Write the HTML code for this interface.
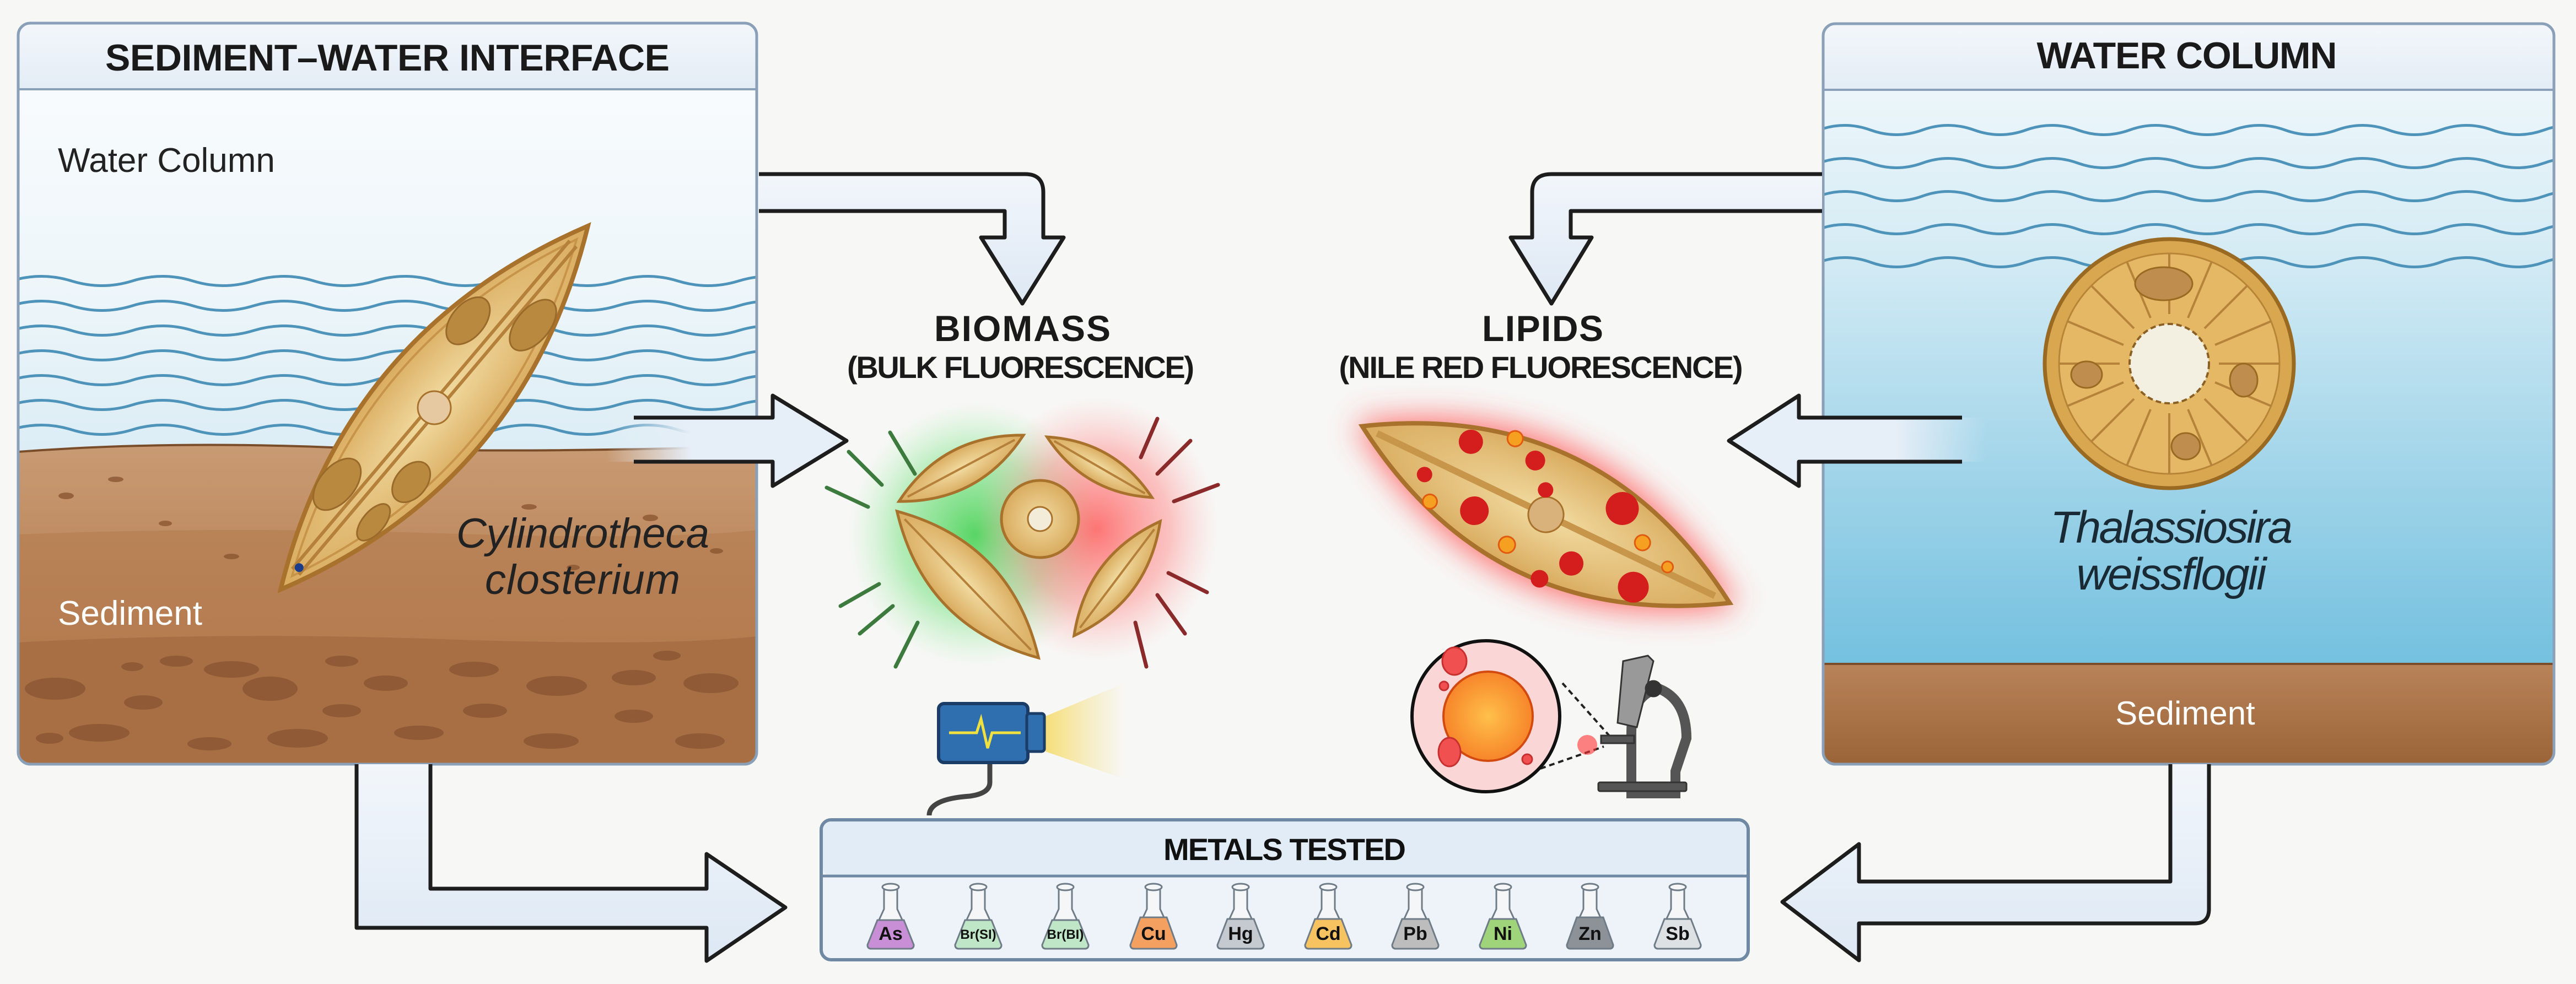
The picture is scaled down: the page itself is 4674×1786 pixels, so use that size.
<!DOCTYPE html>
<html><head><meta charset="utf-8"><style>html,body{margin:0;padding:0;background:#f7f7f5}svg{display:block}</style></head>
<body>
<svg width="4674" height="1786" viewBox="0 0 4674 1786" xmlns="http://www.w3.org/2000/svg" font-family="Liberation Sans, sans-serif">
<defs>
<linearGradient id="lw" x1="0" y1="0" x2="0" y2="1"><stop offset="0" stop-color="#fbfdfe"/><stop offset="0.35" stop-color="#eef6fa"/><stop offset="1" stop-color="#b9dcec"/></linearGradient>
<linearGradient id="ls" x1="0" y1="0" x2="0" y2="1"><stop offset="0" stop-color="#c99b74"/><stop offset="0.5" stop-color="#b98356"/><stop offset="1" stop-color="#a8703f"/></linearGradient>
<linearGradient id="rw" x1="0" y1="0" x2="0" y2="1"><stop offset="0" stop-color="#f6fafc"/><stop offset="0.3" stop-color="#d6ecf5"/><stop offset="1" stop-color="#5cb6da"/></linearGradient>
<linearGradient id="rs" x1="0" y1="0" x2="0" y2="1"><stop offset="0" stop-color="#b98359"/><stop offset="1" stop-color="#9b6338"/></linearGradient>
<linearGradient id="hd" x1="0" y1="0" x2="0" y2="1"><stop offset="0" stop-color="#f3f7fb"/><stop offset="1" stop-color="#e3ecf5"/></linearGradient>
<linearGradient id="ar" x1="0" y1="0" x2="0" y2="1"><stop offset="0" stop-color="#f2f6fb"/><stop offset="1" stop-color="#dde8f4"/></linearGradient>
<linearGradient id="fadeL" x1="0" y1="0" x2="1" y2="0"><stop offset="0" stop-color="#e6eef7" stop-opacity="0"/><stop offset="0.35" stop-color="#e6eef7"/><stop offset="1" stop-color="#e6eef7"/></linearGradient>
<linearGradient id="fadeR" x1="1" y1="0" x2="0" y2="0"><stop offset="0" stop-color="#e6eef7" stop-opacity="0"/><stop offset="0.35" stop-color="#e6eef7"/><stop offset="1" stop-color="#e6eef7"/></linearGradient>
<linearGradient id="cone" x1="0" y1="0" x2="1" y2="0"><stop offset="0" stop-color="#f5dc6a" stop-opacity="0.9"/><stop offset="1" stop-color="#f5e08a" stop-opacity="0"/></linearGradient>
<radialGradient id="gg"><stop offset="0" stop-color="#3ccf4a" stop-opacity="0.85"/><stop offset="0.6" stop-color="#6fe07a" stop-opacity="0.5"/><stop offset="1" stop-color="#a0f0a8" stop-opacity="0"/></radialGradient>
<radialGradient id="rg"><stop offset="0" stop-color="#ff4a4a" stop-opacity="0.75"/><stop offset="0.6" stop-color="#ff8080" stop-opacity="0.45"/><stop offset="1" stop-color="#ffb0b0" stop-opacity="0"/></radialGradient>
<radialGradient id="cellf"><stop offset="0" stop-color="#f2dca2"/><stop offset="1" stop-color="#d9ab5e"/></radialGradient>
<radialGradient id="org"><stop offset="0" stop-color="#ffc04a"/><stop offset="1" stop-color="#f7852a"/></radialGradient>
<filter id="bl" x="-50%" y="-50%" width="200%" height="200%"><feGaussianBlur stdDeviation="28"/></filter>
<clipPath id="lc"><rect x="33" y="42" width="1340" height="1345" rx="22"/></clipPath>
<clipPath id="rc"><rect x="3308" y="43" width="1326" height="1344" rx="22"/></clipPath>
</defs>
<rect width="4674" height="1786" fill="#f7f7f5"/>

<!-- LEFT PANEL -->
<g clip-path="url(#lc)">
<rect x="33" y="42" width="1340" height="1345" fill="url(#lw)"/>
<rect x="33" y="42" width="1340" height="120" fill="url(#hd)"/>
<g fill="none" stroke="#4e93ba" stroke-width="5">
<path id="wv" d="M20 510 q55 -17 110 0 t110 0 t110 0 t110 0 t110 0 t110 0 t110 0 t110 0 t110 0 t110 0 t110 0 t110 0 t110 0"/>
<use href="#wv" y="45"/><use href="#wv" y="90"/><use href="#wv" y="135"/><use href="#wv" y="180"/><use href="#wv" y="225"/><use href="#wv" y="270"/>
</g>
<path d="M33 820 Q300 800 600 812 T1373 810 L1373 1387 L33 1387 Z" fill="url(#ls)" stroke="#7a4d2a" stroke-width="4"/>
<path d="M33 970 Q400 955 800 968 T1373 962 L1373 1387 L33 1387 Z" fill="#b47c50" opacity="0.6"/>
<path d="M33 1166 Q400 1146 800 1160 T1373 1155 L1373 1387 L33 1387 Z" fill="#a86f45"/>
<g fill="#8a5632" opacity="0.8">
<ellipse cx="100" cy="1250" rx="55" ry="20"/><ellipse cx="260" cy="1275" rx="35" ry="13"/><ellipse cx="420" cy="1215" rx="50" ry="15"/><ellipse cx="490" cy="1250" rx="50" ry="22"/><ellipse cx="700" cy="1240" rx="40" ry="14"/><ellipse cx="860" cy="1215" rx="45" ry="14"/><ellipse cx="1010" cy="1245" rx="55" ry="18"/><ellipse cx="1150" cy="1230" rx="40" ry="14"/><ellipse cx="1290" cy="1240" rx="50" ry="18"/><ellipse cx="180" cy="1330" rx="55" ry="16"/><ellipse cx="380" cy="1350" rx="40" ry="12"/><ellipse cx="540" cy="1340" rx="55" ry="17"/><ellipse cx="760" cy="1330" rx="45" ry="13"/><ellipse cx="1000" cy="1345" rx="50" ry="14"/><ellipse cx="1270" cy="1345" rx="45" ry="14"/><ellipse cx="90" cy="1340" rx="25" ry="10"/><ellipse cx="620" cy="1200" rx="30" ry="10"/><ellipse cx="320" cy="1200" rx="30" ry="10"/><ellipse cx="620" cy="1290" rx="35" ry="12"/><ellipse cx="880" cy="1290" rx="40" ry="13"/><ellipse cx="1150" cy="1300" rx="35" ry="12"/><ellipse cx="240" cy="1210" rx="20" ry="8"/><ellipse cx="1210" cy="1190" rx="25" ry="9"/>
<ellipse cx="120" cy="900" rx="14" ry="6"/><ellipse cx="300" cy="950" rx="12" ry="5"/><ellipse cx="1180" cy="940" rx="14" ry="6"/><ellipse cx="1300" cy="1000" rx="12" ry="5"/><ellipse cx="420" cy="1010" rx="14" ry="5"/><ellipse cx="1040" cy="1030" rx="12" ry="5"/><ellipse cx="210" cy="870" rx="14" ry="5"/><ellipse cx="960" cy="920" rx="14" ry="5"/>
</g>
<text x="105" y="312" font-size="62" fill="#222">Water Column</text>
<text x="105" y="1134" font-size="62" fill="#fff">Sediment</text>
<text x="828" y="994" font-size="76" font-style="italic" fill="#222" textLength="459">Cylindrotheca</text>
<text x="880" y="1078" font-size="76" font-style="italic" fill="#222" textLength="354">closterium</text>
</g>
<rect x="33" y="42" width="1340" height="1345" rx="22" fill="none" stroke="#8aa0b8" stroke-width="5"/>
<line x1="33" y1="162" x2="1373" y2="162" stroke="#8aa0b8" stroke-width="4"/>
<text x="703" y="128" font-size="68" font-weight="bold" fill="#1a1a1a" text-anchor="middle" textLength="1024">SEDIMENT–WATER INTERFACE</text>

<!-- left diatom -->
<g transform="translate(788 740) rotate(-49.8)">
<path d="M-432 0 Q0 -215 432 0 Q0 215 -432 0 Z" fill="url(#cellf)" stroke="#a8722c" stroke-width="8"/>
<path d="M-400 0 Q0 -180 400 0 Q0 180 -400 0 Z" fill="none" stroke="#c8944a" stroke-width="4"/>
<line x1="-390" y1="-8" x2="390" y2="-8" stroke="#b5803a" stroke-width="6"/>
<line x1="-390" y1="8" x2="390" y2="8" stroke="#b5803a" stroke-width="6"/>
<g fill="#b8893e" stroke="#9a6a2a" stroke-width="3"><ellipse cx="-220" cy="-45" rx="55" ry="32"/><ellipse cx="160" cy="-55" rx="50" ry="30"/><ellipse cx="230" cy="40" rx="55" ry="30"/><ellipse cx="-130" cy="55" rx="42" ry="28"/><ellipse cx="-230" cy="50" rx="40" ry="20"/></g>
<circle cx="0" cy="0" r="30" fill="#e6c9a0" stroke="#a8722c" stroke-width="3"/>
<circle cx="-380" cy="0" r="8" fill="#1a3c8a"/>
</g>

<!-- RIGHT PANEL -->
<g clip-path="url(#rc)">
<rect x="3308" y="43" width="1326" height="1344" fill="url(#rw)"/>
<rect x="3308" y="43" width="1326" height="120" fill="url(#hd)"/>
<g fill="none" stroke="#4e93ba" stroke-width="5">
<path id="wv2" d="M3300 236 q47 -17 94 0 t94 0 t94 0 t94 0 t94 0 t94 0 t94 0 t94 0 t94 0 t94 0 t94 0 t94 0 t94 0 t94 0 t94 0"/>
<use href="#wv2" y="60"/><use href="#wv2" y="120"/><use href="#wv2" y="180"/><use href="#wv2" y="240"/>
</g>
<rect x="3308" y="1205" width="1326" height="182" fill="url(#rs)"/>
<line x1="3308" y1="1205" x2="4634" y2="1205" stroke="#7a4d2a" stroke-width="4"/>
</g>
<rect x="3308" y="43" width="1326" height="1344" rx="22" fill="none" stroke="#8aa0b8" stroke-width="5"/>
<line x1="3308" y1="163" x2="4634" y2="163" stroke="#8aa0b8" stroke-width="4"/>
<text x="3968" y="124" font-size="68" font-weight="bold" fill="#1a1a1a" text-anchor="middle" textLength="545">WATER COLUMN</text>
<text x="3965" y="1315" font-size="60" fill="#fff" text-anchor="middle">Sediment</text>
<text x="3940" y="985" font-size="82" font-style="italic" fill="#1a2a35" text-anchor="middle" textLength="440">Thalassiosira</text>
<text x="3940" y="1070" font-size="82" font-style="italic" fill="#1a2a35" text-anchor="middle" textLength="345">weissflogii</text>
<!-- centric diatom -->
<g transform="translate(3936 660)">
<circle r="226" fill="#d9a74f" stroke="#9a6a22" stroke-width="7"/>
<circle r="200" fill="#e4b865" stroke="#b88438" stroke-width="3"/>
<g stroke="#b7823a" stroke-width="4">
<line x1="0" y1="-90" x2="0" y2="-200"/><line x1="0" y1="90" x2="0" y2="200"/><line x1="-90" y1="0" x2="-200" y2="0"/><line x1="90" y1="0" x2="200" y2="0"/>
<line x1="64" y1="64" x2="141" y2="141"/><line x1="-64" y1="64" x2="-141" y2="141"/><line x1="64" y1="-64" x2="141" y2="-141"/><line x1="-64" y1="-64" x2="-141" y2="-141"/>
<line x1="34" y1="83" x2="77" y2="185"/><line x1="-34" y1="83" x2="-77" y2="185"/><line x1="34" y1="-83" x2="77" y2="-185"/><line x1="-34" y1="-83" x2="-77" y2="-185"/>
<line x1="83" y1="34" x2="185" y2="77"/><line x1="-83" y1="34" x2="-185" y2="77"/><line x1="83" y1="-34" x2="185" y2="-77"/><line x1="-83" y1="-34" x2="-185" y2="-77"/>
</g>
<g fill="#bf8e4e" stroke="#9a6a22" stroke-width="3"><ellipse cx="-10" cy="-145" rx="52" ry="30"/><ellipse cx="-150" cy="20" rx="28" ry="24"/><ellipse cx="135" cy="30" rx="25" ry="30"/><ellipse cx="30" cy="150" rx="26" ry="24"/></g>
<circle r="72" fill="#f3f0e2" stroke="#8a6024" stroke-width="4" stroke-dasharray="10 6"/>
</g>

<!-- ARROWS -->
<g stroke="#1d1d1d" stroke-width="7" stroke-linejoin="round">
<path d="M1377 316 L1860 316 Q1893 316 1893 349 L1893 431 L1930 431 L1855 551 L1780 431 L1823 431 L1823 383 L1377 383" fill="url(#ar)"/>
<path d="M3306 316 L2815 316 Q2780 316 2780 349 L2780 431 L2741 431 L2815 551 L2888 431 L2850 431 L2850 383 L3306 383" fill="url(#ar)"/>
<path d="M647 1387 L647 1684 L1282 1684 L1282 1744 L1425 1647 L1282 1550 L1282 1613 L781 1613 L781 1387" fill="url(#ar)"/>
<path d="M4008 1387 L4008 1650 Q4008 1676 3982 1676 L3373 1676 L3373 1743 L3234 1637 L3373 1532 L3373 1600 L3938 1600 L3938 1387" fill="url(#ar)"/>
</g>
<path d="M1100 758 L1402 758 L1402 718 L1536 800 L1402 882 L1402 838 L1100 838 Z" fill="url(#fadeL)"/>
<path d="M1150 758 L1402 758 L1402 718 L1536 800 L1402 882 L1402 838 L1150 838" fill="none" stroke="#1d1d1d" stroke-width="7" stroke-linejoin="round"/>
<path d="M3604 758 L3264 758 L3264 718 L3137 800 L3264 882 L3264 838 L3604 838 Z" fill="url(#fadeR)"/>
<path d="M3560 758 L3264 758 L3264 718 L3137 800 L3264 882 L3264 838 L3560 838" fill="none" stroke="#1d1d1d" stroke-width="7" stroke-linejoin="round"/>

<!-- TITLES -->
<text x="1855" y="619" font-size="66" font-weight="bold" fill="#1a1a1a" text-anchor="middle" textLength="320">BIOMASS</text>
<text x="1852" y="686" font-size="56" font-weight="bold" fill="#1a1a1a" text-anchor="middle" textLength="630">(BULK FLUORESCENCE)</text>
<text x="2799" y="619" font-size="66" font-weight="bold" fill="#1a1a1a" text-anchor="middle" textLength="220">LIPIDS</text>
<text x="2796" y="686" font-size="56" font-weight="bold" fill="#1a1a1a" text-anchor="middle" textLength="733">(NILE RED FLUORESCENCE)</text>

<!-- BIOMASS cluster -->
<ellipse cx="1770" cy="970" rx="230" ry="240" fill="url(#gg)"/>
<ellipse cx="1990" cy="960" rx="220" ry="240" fill="url(#rg)"/>
<g stroke-width="7" stroke-linecap="round">
<g stroke="#3d7a3d"><line x1="1615" y1="785" x2="1660" y2="860"/><line x1="1540" y1="820" x2="1600" y2="880"/><line x1="1500" y1="885" x2="1575" y2="920"/><line x1="1525" y1="1100" x2="1595" y2="1060"/><line x1="1560" y1="1150" x2="1620" y2="1100"/><line x1="1625" y1="1210" x2="1665" y2="1130"/></g>
<g stroke="#8a2a2a"><line x1="2100" y1="760" x2="2070" y2="830"/><line x1="2160" y1="800" x2="2100" y2="860"/><line x1="2210" y1="880" x2="2130" y2="910"/><line x1="2190" y1="1075" x2="2120" y2="1040"/><line x1="2150" y1="1150" x2="2100" y2="1080"/><line x1="2080" y1="1210" x2="2060" y2="1130"/></g>
</g>
<g fill="url(#cellf)" stroke="#a8722c" stroke-width="5">
<g transform="translate(1744 850) rotate(-28)"><path d="M-128 0 Q0 -70 128 0 Q0 70 -128 0Z"/><line x1="-110" x2="110" stroke="#b5803a" stroke-width="4"/></g>
<g transform="translate(1995 848) rotate(30)"><path d="M-110 0 Q0 -55 110 0 Q0 55 -110 0Z"/><line x1="-95" x2="95" stroke="#b5803a" stroke-width="4"/></g>
<g transform="translate(1756 1061) rotate(46)"><path d="M-185 0 Q0 -110 185 0 Q0 110 -185 0Z"/><line x1="-165" x2="165" stroke="#b5803a" stroke-width="4"/></g>
<g transform="translate(2027 1050) rotate(-53)"><path d="M-130 0 Q0 -70 130 0 Q0 70 -130 0Z"/><line x1="-112" x2="112" stroke="#b5803a" stroke-width="4"/></g>
<circle cx="1887" cy="942" r="70"/>
</g>
<circle cx="1887" cy="942" r="22" fill="#f3ecd8" stroke="#a8722c" stroke-width="3"/>

<!-- LIPID cell -->
<g transform="translate(2805 934) rotate(25.7)">
<path d="M-385 0 Q0 -260 385 0 Q0 260 -385 0Z" fill="#ff3a3a" opacity="0.7" filter="url(#bl)"/>
<path d="M-370 0 Q0 -230 370 0 Q0 230 -370 0Z" fill="url(#cellf)" stroke="#a8722c" stroke-width="8"/>
<line x1="-340" x2="340" stroke="#c8964a" stroke-width="12"/>
<circle r="32" fill="#d8b27a" stroke="#a8722c" stroke-width="3"/>
<g fill="#d41e1e"><circle cx="-180" cy="-60" r="22"/><circle cx="-60" cy="-80" r="18"/><circle cx="120" cy="-70" r="30"/><circle cx="-120" cy="50" r="26"/><circle cx="80" cy="60" r="22"/><circle cx="200" cy="50" r="28"/><circle cx="-230" cy="30" r="14"/><circle cx="40" cy="110" r="16"/><circle cx="-20" cy="-40" r="14"/></g>
<g fill="#f5a020" stroke="#e05a10" stroke-width="3"><circle cx="-110" cy="-100" r="14"/><circle cx="-200" cy="70" r="13"/><circle cx="180" cy="-30" r="14"/><circle cx="-40" cy="80" r="15"/><circle cx="240" cy="-10" r="10"/></g>
</g>

<!-- camera -->
<path d="M1897 1300 L2040 1240 L2040 1414 L1897 1364Z" fill="url(#cone)"/>
<path d="M1796 1384 L1796 1420 Q1796 1440 1760 1445 Q1686 1450 1686 1480" fill="none" stroke="#444" stroke-width="9"/>
<rect x="1703" y="1277" width="162" height="107" rx="10" fill="#2f6fb0" stroke="#1a3c66" stroke-width="6"/>
<rect x="1863" y="1295" width="32" height="69" rx="5" fill="#2f6fb0" stroke="#1a3c66" stroke-width="5"/>
<path d="M1722 1330 L1772 1330 L1780 1305 L1792 1358 L1800 1330 L1852 1330" fill="none" stroke="#f0e040" stroke-width="5"/>

<!-- lipid droplet magnified + microscope -->
<g stroke="#222" stroke-width="4" stroke-dasharray="10 7"><line x1="2835" y1="1240" x2="2933" y2="1350"/><line x1="2795" y1="1395" x2="2910" y2="1355"/></g>
<ellipse cx="2696" cy="1300" rx="134" ry="137" fill="#fbd6d6" stroke="#111" stroke-width="6"/>
<circle cx="2700" cy="1300" r="81" fill="url(#org)" stroke="#d24a10" stroke-width="4"/>
<g fill="#f05050" stroke="#c83030" stroke-width="3"><ellipse cx="2639" cy="1200" rx="22" ry="25"/><ellipse cx="2630" cy="1365" rx="20" ry="26"/><circle cx="2620" cy="1245" r="8"/><circle cx="2771" cy="1378" r="9"/></g>
<circle cx="2880" cy="1352" r="18" fill="#ff3030" opacity="0.6"/>
<g fill="#555" stroke="#333" stroke-width="3">
<path d="M2960 1440 L2960 1330 Q2960 1260 3010 1250 Q3060 1270 3060 1340 L3040 1400 L3040 1440Z" fill="none" stroke="#555" stroke-width="18"/>
<rect x="2900" y="1420" width="160" height="16" rx="3"/>
<rect x="2905" y="1335" width="60" height="14"/>
<path d="M2945 1200 L2990 1190 L3000 1200 L2970 1320 L2935 1312Z" fill="#999"/>
<circle cx="3000" cy="1250" r="14" fill="#333"/>
</g>

<!-- METALS TESTED -->
<rect x="1490" y="1488" width="1682" height="254" rx="18" fill="#eef3f9" stroke="#6f88a3" stroke-width="6"/>
<rect x="1493" y="1491" width="1676" height="99" rx="15" fill="#e2ecf6"/>
<line x1="1490" y1="1590" x2="3172" y2="1590" stroke="#6f88a3" stroke-width="5"/>
<text x="2331" y="1561" font-size="56" font-weight="bold" fill="#111" text-anchor="middle" textLength="440">METALS TESTED</text>
<g stroke="#6f7c88" stroke-width="3">
<g transform="translate(1616 0)"><path d="M-12 1612 L-12 1650 L-42 1715 Q-42 1722 -35 1722 L35 1722 Q42 1722 42 1715 L12 1650 L12 1612Z" fill="#f4f6f8"/><path d="M-24 1670 L24 1670 L42 1715 Q42 1722 35 1722 L-35 1722 Q-42 1722 -42 1715Z" fill="#c88fd6"/><ellipse cx="0" cy="1610" rx="15" ry="6" fill="#f4f6f8"/></g>
<g transform="translate(1775 0)"><path d="M-12 1612 L-12 1650 L-42 1715 Q-42 1722 -35 1722 L35 1722 Q42 1722 42 1715 L12 1650 L12 1612Z" fill="#f4f6f8"/><path d="M-24 1670 L24 1670 L42 1715 Q42 1722 35 1722 L-35 1722 Q-42 1722 -42 1715Z" fill="#bfe6c6"/><ellipse cx="0" cy="1610" rx="15" ry="6" fill="#f4f6f8"/></g>
<g transform="translate(1933 0)"><path d="M-12 1612 L-12 1650 L-42 1715 Q-42 1722 -35 1722 L35 1722 Q42 1722 42 1715 L12 1650 L12 1612Z" fill="#f4f6f8"/><path d="M-24 1670 L24 1670 L42 1715 Q42 1722 35 1722 L-35 1722 Q-42 1722 -42 1715Z" fill="#bfe6c6"/><ellipse cx="0" cy="1610" rx="15" ry="6" fill="#f4f6f8"/></g>
<g transform="translate(2093 0)"><path d="M-12 1612 L-12 1650 L-42 1715 Q-42 1722 -35 1722 L35 1722 Q42 1722 42 1715 L12 1650 L12 1612Z" fill="#f4f6f8"/><path d="M-24 1665 L24 1665 L42 1715 Q42 1722 35 1722 L-35 1722 Q-42 1722 -42 1715Z" fill="#f3a060"/><ellipse cx="0" cy="1610" rx="15" ry="6" fill="#f4f6f8"/></g>
<g transform="translate(2251 0)"><path d="M-12 1612 L-12 1650 L-42 1715 Q-42 1722 -35 1722 L35 1722 Q42 1722 42 1715 L12 1650 L12 1612Z" fill="#f4f6f8"/><path d="M-24 1668 L24 1668 L42 1715 Q42 1722 35 1722 L-35 1722 Q-42 1722 -42 1715Z" fill="#c4cad0"/><ellipse cx="0" cy="1610" rx="15" ry="6" fill="#f4f6f8"/></g>
<g transform="translate(2410 0)"><path d="M-12 1612 L-12 1650 L-42 1715 Q-42 1722 -35 1722 L35 1722 Q42 1722 42 1715 L12 1650 L12 1612Z" fill="#f4f6f8"/><path d="M-24 1668 L24 1668 L42 1715 Q42 1722 35 1722 L-35 1722 Q-42 1722 -42 1715Z" fill="#f6c360"/><ellipse cx="0" cy="1610" rx="15" ry="6" fill="#f4f6f8"/></g>
<g transform="translate(2568 0)"><path d="M-12 1612 L-12 1650 L-42 1715 Q-42 1722 -35 1722 L35 1722 Q42 1722 42 1715 L12 1650 L12 1612Z" fill="#f4f6f8"/><path d="M-24 1668 L24 1668 L42 1715 Q42 1722 35 1722 L-35 1722 Q-42 1722 -42 1715Z" fill="#bdbdbd"/><ellipse cx="0" cy="1610" rx="15" ry="6" fill="#f4f6f8"/></g>
<g transform="translate(2727 0)"><path d="M-12 1612 L-12 1650 L-42 1715 Q-42 1722 -35 1722 L35 1722 Q42 1722 42 1715 L12 1650 L12 1612Z" fill="#f4f6f8"/><path d="M-24 1668 L24 1668 L42 1715 Q42 1722 35 1722 L-35 1722 Q-42 1722 -42 1715Z" fill="#9fd47a"/><ellipse cx="0" cy="1610" rx="15" ry="6" fill="#f4f6f8"/></g>
<g transform="translate(2885 0)"><path d="M-12 1612 L-12 1650 L-42 1715 Q-42 1722 -35 1722 L35 1722 Q42 1722 42 1715 L12 1650 L12 1612Z" fill="#f4f6f8"/><path d="M-24 1665 L24 1665 L42 1715 Q42 1722 35 1722 L-35 1722 Q-42 1722 -42 1715Z" fill="#8c9298"/><ellipse cx="0" cy="1610" rx="15" ry="6" fill="#f4f6f8"/></g>
<g transform="translate(3044 0)"><path d="M-12 1612 L-12 1650 L-42 1715 Q-42 1722 -35 1722 L35 1722 Q42 1722 42 1715 L12 1650 L12 1612Z" fill="#f4f6f8"/><path d="M-24 1668 L24 1668 L42 1715 Q42 1722 35 1722 L-35 1722 Q-42 1722 -42 1715Z" fill="#dde1e4"/><ellipse cx="0" cy="1610" rx="15" ry="6" fill="#f4f6f8"/></g>
</g>
<g font-size="34" font-weight="bold" fill="#111" text-anchor="middle">
<text x="1616" y="1706">As</text><text x="1775" y="1704" font-size="24">Br(SI)</text><text x="1933" y="1704" font-size="24">Br(BI)</text><text x="2093" y="1706">Cu</text><text x="2251" y="1706">Hg</text><text x="2410" y="1706">Cd</text><text x="2568" y="1706">Pb</text><text x="2727" y="1706">Ni</text><text x="2885" y="1706">Zn</text><text x="3044" y="1706">Sb</text>
</g>
</svg>
</body></html>
